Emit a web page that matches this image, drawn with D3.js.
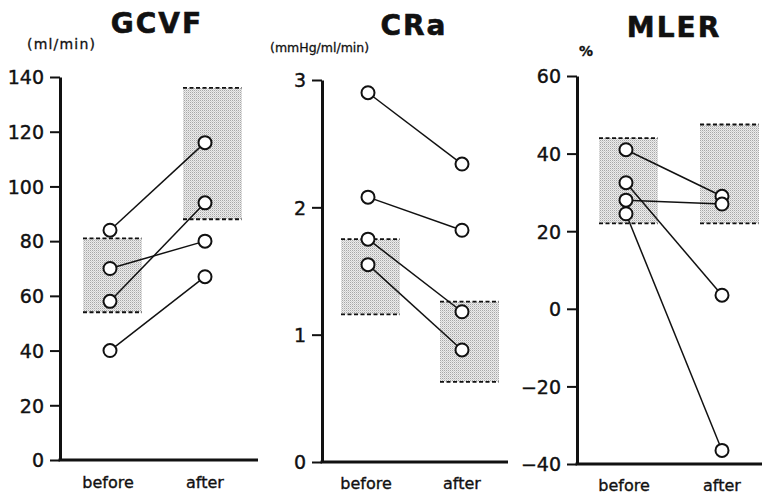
<!DOCTYPE html>
<html>
<head>
<meta charset="utf-8">
<script src="https://cdn.jsdelivr.net/npm/d3@7"></script>
<style>
  body { margin: 0; background: #fff; }
  text { font-family: "DejaVu Sans", sans-serif; fill: #111; }
</style>
</head>
<body>
<svg id="chart" width="762" height="495"></svg>
<script>
const groups = ["before", "after"]

const gcvfBefore = [84, 70, 58, 40]
const gcvfAfter = [116, 80, 94, 67]
const gcvfBands = [[54, 81], [88, 136]]
const gcvfTicks = [0, 20, 40, 60, 80, 100, 120, 140]

const craBefore = [2.9, 2.08, 1.75, 1.55]
const craAfter = [2.34, 1.82, 1.18, 0.88]
const craBands = [[1.16, 1.75], [0.63, 1.26]]
const craTicks = [0, 1, 2, 3]

const mlerBefore = [41, 28, 32.5, 24.5]
const mlerAfter = [29, 27, 3.5, -36.5]
const mlerBands = [[22, 44], [22, 47.5]]
const mlerTicks = [-40, -20, 0, 20, 40, 60]

const svg = d3.select('#chart')

// stipple fill for the range boxes
const pat = svg.append('defs').append('pattern')
    .attr('id', 'stipple')
    .attr('width', 2).attr('height', 2)
    .attr('patternUnits', 'userSpaceOnUse')
pat.append('rect').attr('width', 2).attr('height', 2).attr('fill', '#ececec')
pat.append('rect').attr('width', 1).attr('height', 1).attr('fill', '#a8a8a8')
pat.append('rect').attr('x', 1).attr('y', 1).attr('width', 1).attr('height', 1).attr('fill', '#cfcfcf')

const panels = [
    {title: "GCVF", titleX: 157, titleY: 33, unit: "(ml/min)", unitX: 27, unitY: 49, unitSize: 14, unitSpacing: 1.2,
     before: gcvfBefore, after: gcvfAfter, bands: gcvfBands, ticks: gcvfTicks,
     domain: [0, 140], yRange: [460, 77], axisX: 60, xEnd: 258, pts: [110, 205], labY: 488},
    {title: "CRa", titleX: 414, titleY: 35, unit: "(mmHg/ml/min)", unitX: 270, unitY: 52, unitSize: 12.5, unitSpacing: 0,
     before: craBefore, after: craAfter, bands: craBands, ticks: craTicks,
     domain: [0, 3], yRange: [462, 80], axisX: 322, xEnd: 508, pts: [368, 462], labY: 489},
    {title: "MLER", titleX: 674, titleY: 37, unit: "%", unitX: 579, unitY: 56, unitSize: 14, unitSpacing: 0,
     before: mlerBefore, after: mlerAfter, bands: mlerBands, ticks: mlerTicks,
     domain: [-40, 60], yRange: [464, 76], axisX: 577, xEnd: 762, pts: [626, 722], labY: 491}
]

const bandOffset = [-27, -22]
const bandWidth = 59

function drawPanel(g, p) {
    const y = d3.scaleLinear().domain(p.domain).range(p.yRange)
    const x = d3.scaleOrdinal().domain(groups).range(p.pts)

    // range boxes
    const bands = g.selectAll('.band')
        .data(p.bands)
        .enter().append('g')
        .attr('class', 'band')
    bands.append('rect')
        .attr('x', (d, i) => x(groups[i]) + bandOffset[i])
        .attr('y', d => y(d[1]))
        .attr('width', bandWidth)
        .attr('height', d => y(d[0]) - y(d[1]))
        .attr('fill', 'url(#stipple)')
    bands.selectAll('line')
        .data((d, i) => d.map(v => [i, v]))
        .enter().append('line')
        .attr('x1', d => x(groups[d[0]]) + bandOffset[d[0]])
        .attr('x2', d => x(groups[d[0]]) + bandOffset[d[0]] + bandWidth)
        .attr('y1', d => y(d[1]))
        .attr('y2', d => y(d[1]))
        .attr('stroke', '#111')
        .attr('stroke-width', 1.8)
        .attr('stroke-dasharray', '4,2.5')

    // paired lines
    const pairs = d3.zip(p.before, p.after)
    g.selectAll('.pair')
        .data(pairs)
        .enter().append('line')
        .attr('class', 'pair')
        .attr('x1', x('before')).attr('y1', d => y(d[0]))
        .attr('x2', x('after')).attr('y2', d => y(d[1]))
        .attr('stroke', '#111')
        .attr('stroke-width', 1.5)

    const pts = []
    pairs.forEach(d => { pts.push(['before', d[0]]); pts.push(['after', d[1]]) })
    g.selectAll('.pt')
        .data(pts)
        .enter().append('circle')
        .attr('class', 'pt')
        .attr('cx', d => x(d[0]))
        .attr('cy', d => y(d[1]))
        .attr('r', 6.5)
        .attr('fill', '#fff')
        .attr('stroke', '#111')
        .attr('stroke-width', 2)

    // axes
    const ax = g.append('g')
        .attr('transform', `translate(${p.axisX},0)`)
        .call(d3.axisLeft(y).tickValues(p.ticks).tickSize(10).tickSizeOuter(0).tickPadding(6)
            .tickFormat(d => d < 0 ? '\u2212' + Math.abs(d) : d))
    ax.select('.domain').attr('stroke', '#111').attr('stroke-width', 3)
    ax.selectAll('.tick line').attr('stroke', '#111').attr('stroke-width', 2)
    ax.selectAll('.tick text')
        .style('font-family', '"DejaVu Sans", sans-serif')
        .style('font-size', '19px')
        .attr('fill', '#111')
        .attr('stroke', '#111')
        .attr('stroke-width', 0.4)
        .attr('dy', '0.36em')

    g.append('line')
        .attr('x1', p.axisX - 1.5).attr('x2', p.xEnd)
        .attr('y1', p.yRange[0]).attr('y2', p.yRange[0])
        .attr('stroke', '#111')
        .attr('stroke-width', 3)

    g.selectAll('.xlab')
        .data(groups)
        .enter().append('text')
        .attr('class', 'xlab')
        .attr('x', d => x(d) - (d === 'before' ? 2 : 0))
        .attr('y', p.labY)
        .attr('text-anchor', 'middle')
        .attr('stroke', '#111')
        .attr('stroke-width', 0.35)
        .style('font-size', '16px')
        .text(d => d)

    g.append('text')
        .attr('x', p.titleX).attr('y', p.titleY)
        .attr('text-anchor', 'middle')
        .attr('stroke', '#111')
        .attr('stroke-width', 0.6)
        .style('font-size', '28px')
        .style('font-weight', 'bold')
        .style('letter-spacing', '2px')
        .text(p.title)

    g.append('text')
        .attr('x', p.unitX).attr('y', p.unitY)
        .attr('stroke', '#111')
        .attr('stroke-width', 0.3)
        .style('font-size', p.unitSize + 'px')
        .style('letter-spacing', p.unitSpacing + 'px')
        .style('font-weight', p.unit === '%' ? 'bold' : 'normal')
        .text(p.unit)
}

panels.forEach(p => svg.append('g').call(drawPanel, p))
</script>
</body>
</html>
